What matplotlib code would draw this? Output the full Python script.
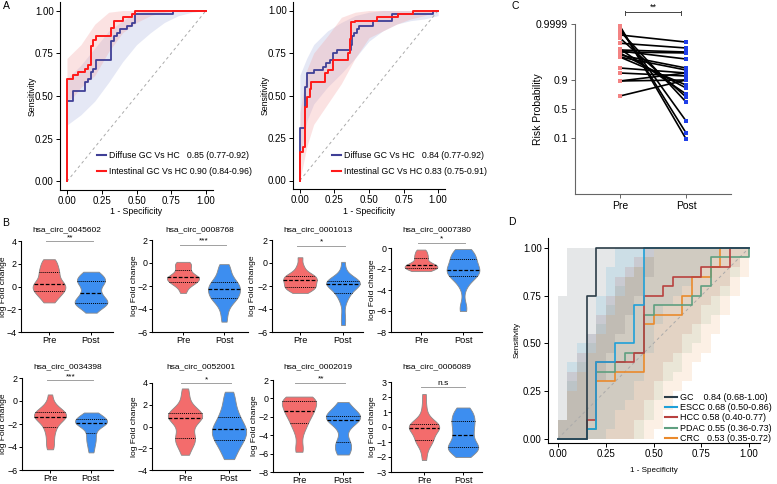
import numpy as np
import matplotlib
matplotlib.use('Agg')
import matplotlib.pyplot as plt
from matplotlib.lines import Line2D
from matplotlib.ticker import NullLocator
from statistics import NormalDist

plt.rcParams['font.family'] = ['Liberation Sans', 'DejaVu Sans']

## Data ##

# Panel A left: ROC step points (fpr where the jump happens, tpr after jump)
a1_intest_fpr = [0, 0, 0.04, 0.08, 0.13, 0.15, 0.17, 0.19, 0.21, 0.32, 0.34, 0.40, 0.47, 0.49, 1.0]
a1_intest_tpr = [0, 0.60, 0.62, 0.64, 0.66, 0.68, 0.79, 0.83, 0.85, 0.90, 0.94, 0.96, 0.98, 1.0, 1.0]
a1_diffuse_fpr = [0, 0, 0.04, 0.13, 0.15, 0.17, 0.19, 0.21, 0.32, 0.34, 0.36, 0.38, 0.43, 0.47, 0.49, 0.76, 1.0]
a1_diffuse_tpr = [0, 0.47, 0.53, 0.58, 0.60, 0.64, 0.66, 0.71, 0.82, 0.85, 0.87, 0.89, 0.91, 0.93, 0.98, 1.0, 1.0]

# Panel A right
a2_diffuse_fpr = [0, 0, 0.04, 0.05, 0.10, 0.17, 0.19, 0.22, 0.24, 0.27, 0.37, 0.38, 0.39, 0.41, 0.43, 0.53, 0.67, 0.96, 1.0]
a2_diffuse_tpr = [0, 0.31, 0.55, 0.63, 0.65, 0.67, 0.69, 0.71, 0.75, 0.77, 0.80, 0.85, 0.87, 0.89, 0.91, 0.94, 0.98, 1.0, 1.0]
a2_intest_fpr = [0, 0, 0.02, 0.04, 0.05, 0.07, 0.08, 0.18, 0.20, 0.24, 0.35, 0.36, 0.37, 0.40, 0.56, 0.71, 0.82, 1.0]
a2_intest_tpr = [0, 0.17, 0.20, 0.43, 0.49, 0.54, 0.58, 0.63, 0.65, 0.71, 0.75, 0.83, 0.93, 0.94, 0.96, 0.98, 1.0, 1.0]

# confidence bands for panel A
a_band_x = [0, 0.05, 0.1, 0.2, 0.3, 0.4, 0.5, 0.6, 0.7, 0.8, 0.9, 1.0]
a1_intest_hi = [0.72, 0.76, 0.80, 0.92, 0.99, 1, 1, 1, 1, 1, 1, 1]
a1_intest_lo = [0.47, 0.50, 0.55, 0.62, 0.76, 0.87, 0.93, 0.97, 0.99, 1, 1, 1]
a1_diffuse_hi = [0.60, 0.64, 0.68, 0.78, 0.88, 0.94, 0.99, 1, 1, 1, 1, 1]
a1_diffuse_lo = [0.33, 0.36, 0.39, 0.47, 0.58, 0.70, 0.80, 0.87, 0.93, 0.97, 0.99, 1.0]
a2_intest_hi = [0.40, 0.65, 0.75, 0.85, 0.96, 0.99, 1, 1, 1, 1, 1, 1]
a2_intest_lo = [0.0, 0.20, 0.33, 0.45, 0.57, 0.72, 0.84, 0.88, 0.92, 0.95, 0.97, 1.0]
a2_diffuse_hi = [0.62, 0.72, 0.80, 0.88, 0.93, 0.97, 0.99, 1, 1, 1, 1, 1]
a2_diffuse_lo = [0.12, 0.35, 0.45, 0.55, 0.63, 0.72, 0.82, 0.88, 0.92, 0.94, 0.95, 0.97]

a1_labels = ['Diffuse GC Vs HC   0.85 (0.77-0.92)', 'Intestinal GC Vs HC 0.90 (0.84-0.96)']
a2_labels = ['Diffuse GC Vs HC   0.84 (0.77-0.92)', 'Intestinal GC Vs HC 0.83 (0.75-0.91)']

# Panel B: log fold change per circRNA
circ_names = ['hsa_circ_0045602', 'hsa_circ_0008768', 'hsa_circ_0001013', 'hsa_circ_0007380',
              'hsa_circ_0034398', 'hsa_circ_0052001', 'hsa_circ_0002019', 'hsa_circ_0006089']
circ_sig = ['**', '***', '*', '*', '***', '*', '**', 'n.s']

pre_0045602 = [-1.4, -1.1, -0.8, -0.6, -0.45, -0.35, -0.2, -0.05, 0.1, 0.2, 0.25, 0.4, 0.7, 1.0, 1.2, 1.35, 1.6, 1.9, 2.2, 2.4]
post_0045602 = [-2.3, -1.9, -1.6, -1.5, -1.45, -1.4, -1.35, -1.2, -0.9, -0.7, -0.5, -0.2, 0.2, 0.4, 0.45, 0.5, 0.7, 0.9, 1.1, 1.3]
pre_0008768 = [-2.6, -2.2, -1.9, -1.8, -1.7, -1.65, -1.5, -1.4, -1.3, -1.3, -1.2, -1.2, -1.1, -0.9, -0.7, -0.5, -0.3, -0.1, 0.0, 0.1]
post_0008768 = [-5.1, -4.3, -3.7, -3.3, -3.1, -3.05, -2.9, -2.7, -2.5, -2.35, -2.25, -2.1, -2.0, -1.8, -1.65, -1.5, -1.2, -0.8, -0.4, -0.1]
pre_0001013 = [-2.6, -2.4, -2.3, -2.2, -2.1, -2.05, -1.9, -1.8, -1.7, -1.55, -1.45, -1.4, -1.3, -1.2, -1.1, -1.05, -0.9, -0.6, -0.2, 0.5]
post_0001013 = [-5.4, -4.6, -3.5, -2.9, -2.7, -2.6, -2.2, -2.0, -1.9, -1.85, -1.75, -1.7, -1.7, -1.65, -1.6, -1.55, -1.5, -1.3, -0.8, 0.1]
pre_0007380 = [-2.2, -2.15, -2.05, -2.0, -1.9, -1.85, -1.8, -1.75, -1.7, -1.65, -1.55, -1.5, -1.4, -1.2, -0.95, -0.85, -0.7, -0.5, -0.3, -0.15]
post_0007380 = [-6.0, -5.5, -3.7, -3.0, -2.75, -2.6, -2.5, -2.3, -2.2, -2.1, -2.0, -1.8, -1.6, -1.3, -1.05, -0.9, -0.7, -0.5, -0.3, -0.1]
pre_0034398 = [-4.2, -3.8, -3.3, -2.8, -2.4, -2.2, -1.8, -1.6, -1.5, -1.4, -1.35, -1.3, -1.2, -1.1, -0.95, -0.9, -0.8, -0.6, -0.2, 0.57]
post_0034398 = [-4.47, -4.0, -3.5, -3.4, -2.9, -2.75, -2.2, -2.1, -2.0, -1.95, -1.93, -1.85, -1.8, -1.7, -1.6, -1.5, -1.4, -1.3, -1.2, -1.0]
pre_0052001 = [-2.6, -2.0, -1.5, -1.2, -1.1, -1.05, -0.5, 0.0, 0.5, 0.75, 0.85, 0.9, 1.0, 1.1, 1.2, 1.25, 1.5, 2.0, 2.8, 3.5]
post_0052001 = [-3.0, -2.5, -2.0, -1.7, -1.35, -1.2, -1.0, -0.8, -0.5, -0.3, -0.2, -0.1, 0.1, 0.5, 0.85, 1.0, 1.5, 2.0, 2.6, 3.2]
pre_0002019 = [-5.8, -5.3, -4.0, -3.2, -2.8, -2.65, -2.0, -1.8, -1.6, -1.45, -1.35, -1.0, -0.7, -0.5, -0.3, -0.25, -0.1, 0.0, 0.1, 0.2]
post_0002019 = [-6.1, -6.0, -5.5, -5.0, -4.85, -4.75, -3.5, -2.8, -2.5, -2.35, -2.25, -2.1, -2.0, -1.95, -1.9, -1.8, -1.5, -1.2, -0.8, -0.4]
pre_0006089 = [-2.2, -1.6, -1.1, -0.95, -0.9, -0.85, -0.6, -0.3, -0.15, -0.08, -0.02, 0.0, 0.05, 0.1, 0.2, 0.22, 0.4, 0.8, 1.4, 2.2]
post_0006089 = [-2.0, -1.7, -1.5, -1.45, -1.4, -1.35, -1.3, -1.1, -0.8, -0.55, -0.45, -0.2, 0.0, 0.2, 0.4, 0.5, 0.7, 0.9, 1.1, 1.3]

# Panel C: paired risk probability
risk_pre = [0.99986, 0.99983, 0.99977, 0.99968, 0.9994, 0.99905, 0.998, 0.9957, 0.9951, 0.9944,
            0.9937, 0.9929, 0.9909, 0.9885, 0.9885, 0.9636, 0.9424, 0.890, 0.890, 0.715]
risk_post = [0.095, 0.147, 0.300, 0.620, 0.9983, 0.700, 0.9962, 0.744, 0.9937, 0.9856,
             0.9929, 0.821, 0.9636, 0.956, 0.853, 0.9424, 0.9256, 0.898, 0.9424, 0.898]

# Panel D: ROC for other cancers
gc_fpr = [0, 0.15, 0.2, 1.0]
gc_tpr = [0, 0.75, 1.0, 1.0]
escc_fpr = [0, 0.15, 0.2, 0.3, 0.4, 0.45, 1.0]
escc_tpr = [0, 0.05, 0.4, 0.5, 0.7, 1.0, 1.0]
hcc_fpr = [0, 0.15, 0.2, 0.4, 0.45, 0.55, 0.6, 0.75, 0.9, 1.0]
hcc_tpr = [0, 0.1, 0.4, 0.45, 0.75, 0.8, 0.85, 0.9, 1.0, 1.0]
pdac_fpr = [0, 0.15, 0.2, 0.3, 0.35, 0.45, 0.5, 0.7, 0.75, 0.8, 1.0, 1.0]
pdac_tpr = [0, 0.05, 0.35, 0.4, 0.45, 0.65, 0.7, 0.75, 0.8, 0.95, 0.95, 1.0]
crc_fpr = [0, 0.15, 0.2, 0.3, 0.45, 0.5, 0.65, 0.7, 0.8, 0.85, 1.0]
crc_tpr = [0, 0.05, 0.3, 0.35, 0.6, 0.65, 0.75, 0.85, 0.9, 1.0, 1.0]

d_band_x = [0, 0.05, 0.1, 0.15, 0.2, 0.25, 0.3, 0.35, 0.4, 0.45, 0.5, 0.55, 0.6, 0.65, 0.7, 0.75, 0.8, 0.85, 0.9, 0.95, 1.0]
gc_hi = [0.75, 1, 1, 1, 1, 1, 1, 1, 1, 1, 1, 1, 1, 1, 1, 1, 1, 1, 1, 1, 1]
gc_lo = [0, 0, 0, 0.1, 0.3, 0.45, 0.55, 0.65, 0.75, 0.85, 1, 1, 1, 1, 1, 1, 1, 1, 1, 1, 1]
escc_hi = [0.1, 0.4, 0.5, 0.55, 0.75, 0.9, 1, 1, 1, 1, 1, 1, 1, 1, 1, 1, 1, 1, 1, 1, 1]
escc_lo = [0, 0, 0, 0, 0, 0.05, 0.15, 0.2, 0.3, 0.45, 0.6, 0.7, 0.75, 0.8, 0.85, 0.9, 0.95, 1, 1, 1, 1]
hcc_hi = [0.1, 0.35, 0.45, 0.55, 0.65, 0.75, 0.85, 0.9, 0.95, 1, 1, 1, 1, 1, 1, 1, 1, 1, 1, 1, 1]
hcc_lo = [0, 0, 0, 0, 0, 0, 0, 0, 0.1, 0.2, 0.3, 0.4, 0.45, 0.55, 0.6, 0.7, 0.75, 0.8, 0.9, 0.95, 1]
pdac_hi = [0.1, 0.3, 0.4, 0.5, 0.6, 0.7, 0.8, 0.85, 0.9, 0.95, 1, 1, 1, 1, 1, 1, 1, 1, 1, 1, 1]
pdac_lo = [0, 0, 0, 0, 0, 0, 0, 0, 0, 0.1, 0.2, 0.3, 0.35, 0.45, 0.5, 0.6, 0.65, 0.75, 0.85, 0.95, 1]
crc_hi = [0.1, 0.25, 0.35, 0.45, 0.55, 0.65, 0.75, 0.85, 0.9, 0.95, 1, 1, 1, 1, 1, 1, 1, 1, 1, 1, 1]
crc_lo = [0, 0, 0, 0, 0, 0, 0, 0, 0, 0, 0.05, 0.15, 0.25, 0.3, 0.4, 0.45, 0.55, 0.65, 0.75, 0.85, 0.95]

d_labels = ['GC    0.84 (0.68-1.00)', 'ESCC 0.68 (0.50-0.86)', 'HCC 0.58 (0.40-0.77)',
            'PDAC 0.55 (0.36-0.73)', 'CRC   0.53 (0.35-0.72)']

## Styles ##
red = '#ff1a1a'
navy = '#3f3f96'
pre_col = '#f36c6c'
post_col = '#3d8ef0'
d_cols = ['#2b3d48', '#1fa0d8', '#b8413f', '#5f9f80', '#ea8a2c']

W, H = 777, 484
fig = plt.figure(figsize=(W / 100, H / 100), dpi=100)


def px_axes(l, t, r, b):
    return fig.add_axes([l / W, 1 - b / H, (r - l) / W, (b - t) / H])


def style_axes(ax, tick_size, length=3):
    for s in ['top', 'right']:
        ax.spines[s].set_visible(False)
    for s in ['left', 'bottom']:
        ax.spines[s].set_linewidth(0.8)
    ax.tick_params(labelsize=tick_size, length=length, width=0.7, pad=1.5)


def label_at(ax, rect, xlab_y=None, ylab_x=None):
    # put axis labels at a given pixel position
    l, t, r, b = rect
    if ylab_x is not None:
        ax.yaxis.set_label_coords((ylab_x - l) / (r - l), 0.5)
        ax.yaxis.label.set_va('center')
    if xlab_y is not None:
        ax.xaxis.set_label_coords(0.5, (b - xlab_y) / (b - t))
        ax.xaxis.label.set_va('center')


def roc_axes(ax, label_size=6.3, tick_size=7):
    style_axes(ax, tick_size)
    ax.plot([0, 1], [0, 1], color='#aaaaaa', lw=0.7, dashes=(3, 3))
    ax.set_xlim(-0.05, 1.05)
    ax.set_ylim(-0.05, 1.05)
    ticks = [0, 0.25, 0.5, 0.75, 1.0]
    ax.set_xticks(ticks, ['0.00', '0.25', '0.50', '0.75', '1.00'])
    ax.set_yticks(ticks, ['0.00', '0.25', '0.50', '0.75', '1.00'])
    ax.set_xlabel('1 - Specificity', fontsize=label_size)
    ax.set_ylabel('Sensitivity', fontsize=label_size)


## Panel A ##
for rect, dfpr, dtpr, ifpr, itpr, dhi, dlo, ihi, ilo, labs, lx, ylx in [
        ((60, 2, 213, 190), a1_diffuse_fpr, a1_diffuse_tpr, a1_intest_fpr, a1_intest_tpr,
         a1_diffuse_hi, a1_diffuse_lo, a1_intest_hi, a1_intest_lo, a1_labels, 97, 32),
        ((293, 2, 445, 189), a2_diffuse_fpr, a2_diffuse_tpr, a2_intest_fpr, a2_intest_tpr,
         a2_diffuse_hi, a2_diffuse_lo, a2_intest_hi, a2_intest_lo, a2_labels, 332, 265)]:
    ax = px_axes(*rect)
    roc_axes(ax)
    label_at(ax, rect, xlab_y=211, ylab_x=ylx)
    ax.fill_between(a_band_x, dlo, dhi, color='#aab4e0', alpha=0.3, lw=0)
    ax.fill_between(a_band_x, ilo, ihi, color='#f4a0a0', alpha=0.3, lw=0)
    ax.plot(dfpr, dtpr, drawstyle='steps-post', color=navy, lw=1.3)
    ax.plot(ifpr, itpr, drawstyle='steps-post', color=red, lw=1.4)
    handles = [Line2D([], [], color=navy, lw=1.5), Line2D([], [], color=red, lw=1.5)]
    ax.legend(handles, labs, loc='center left', bbox_to_anchor=(lx / W, 1 - 163.5 / H),
              bbox_transform=fig.transFigure, frameon=False, fontsize=6.3, handlelength=1.0,
              handletextpad=0.4, labelspacing=0.85, borderpad=0, borderaxespad=0)

## Panel B ##
# rect (l, t, r, b), pre/post x pixel, ylim, yticks, sig bar y, title y, ylabel x
b_layout = [((21, 241, 113, 332), (49, 91), (-4, 4), [-4, -2, 0, 2, 4], 4.0, 230, 4),
            ((152, 240, 248, 332), (183, 224), (-6, 2), [-6, -4, -2, 0, 2], 1.6, 230, 134),
            ((272, 240, 363, 332), (300, 343), (-6, 2), [-6, -4, -2, 0, 2], 1.5, 230, 253),
            ((391, 248, 482, 332), (421, 463), (-8, 0), [-8, -6, -4, -2, 0], 0.5, 230, 373),
            ((22, 378, 113, 470), (50, 91), (-6, 2), [-6, -4, -2, 0, 2], 1.8, 367, 4),
            ((152, 383, 250, 470), (185, 229), (-4, 4), [-4, -2, 0, 2, 4], 4.0, 367, 135),
            ((273, 380, 363, 472), (299, 343), (-8, 2), [-8, -6, -4, -2, 0, 2], 1.7, 367, 255),
            ((391, 382, 482, 472), (424, 463), (-3, 3), [-3, -2, -1, 0, 1, 2, 3], 2.67, 367, 373)]
b_data = [(pre_0045602, post_0045602), (pre_0008768, post_0008768), (pre_0001013, post_0001013),
          (pre_0007380, post_0007380), (pre_0034398, post_0034398), (pre_0052001, post_0052001),
          (pre_0002019, post_0002019), (pre_0006089, post_0006089)]

for (rect, (px1, px2), yl, yt, sig_y, title_y, ylab_x), (pre, post), name, sig in zip(
        b_layout, b_data, circ_names, circ_sig):
    ax = px_axes(*rect)
    style_axes(ax, 6.4, length=2)
    ax.tick_params(pad=1)
    parts = ax.violinplot([pre, post], positions=[1, 2], widths=0.78, showextrema=False, bw_method=0.4)
    for body, vals, pos, col in zip(parts['bodies'], [pre, post], [1, 2], [pre_col, post_col]):
        body.set_facecolor(col)
        body.set_edgecolor('#8a8a8a')
        body.set_linewidth(0.6)
        body.set_alpha(1)
        v = body.get_paths()[0].vertices
        right = v[v[:, 0] >= pos]
        order = np.argsort(right[:, 1])
        ys, xs = right[order, 1], right[order, 0] - pos
        q1, med, q3 = np.percentile(vals, [25, 50, 75])
        for q, ls, lw in [(q1, (0, (1, 1)), 0.7), (med, (0, (3, 1.5)), 0.9), (q3, (0, (1, 1)), 0.7)]:
            hw = np.interp(q, ys, xs)
            ax.plot([pos - hw, pos + hw], [q, q], color='black', ls=ls, lw=lw)
    step = px2 - px1
    ax.set_xlim(1 - (px1 - rect[0]) / step, 2 + (rect[2] - px2) / step)
    ax.set_ylim(*yl)
    ax.set_yticks(yt)
    ax.set_xticks([1, 2], ['Pre', 'Post'])
    ax.tick_params(axis='x', labelsize=6.6)
    ax.set_ylabel('log Fold change', fontsize=6)
    label_at(ax, rect, ylab_x=ylab_x)
    ax.plot([0.92, 2.05], [sig_y, sig_y], color='#a0a0a0', lw=0.7, clip_on=False)
    ax.text(1.5, sig_y, sig, ha='center', va='bottom', fontsize=6, clip_on=False)
    cx = (rect[0] + rect[2]) / 2
    fig.text(cx / W, 1 - title_y / H, name, ha='center', va='center', fontsize=6)

## Panel C ##
_nd = NormalDist()
_ppf = np.vectorize(_nd.inv_cdf, otypes=[float])
_cdf = np.vectorize(_nd.cdf, otypes=[float])


def probit(p):
    return _ppf(np.clip(np.asarray(p, dtype=float), 1e-12, 1 - 1e-12))


def inv_probit(z):
    return _cdf(np.asarray(z, dtype=float))


rectC = (575, 24, 731, 194)
axC = px_axes(*rectC)
axC.set_yscale('function', functions=(probit, inv_probit))
for a, b in zip(risk_pre, risk_post):
    axC.plot([1, 2], [a, b], color='black', lw=1.2, zorder=2)
axC.scatter(np.ones(len(risk_pre)), risk_pre, s=8, marker='s', color='#f38383', zorder=3, lw=0)
axC.scatter(np.full(len(risk_post), 2), risk_post, s=8, marker='s', color='#1f3fe8', zorder=3, lw=0)
axC.set_ylim(0.0001, 0.9999)
axC.set_xlim(0.32, 2.68)
axC.set_yticks([0.1, 0.5, 0.9, 0.9999], ['0.1', '0.5', '0.9', '0.9999'])
axC.yaxis.set_minor_locator(NullLocator())
axC.set_xticks([1, 2], ['Pre', 'Post'])
for s in ['top', 'right']:
    axC.spines[s].set_visible(False)
for s in ['left', 'bottom']:
    axC.spines[s].set_color('#666666')
    axC.spines[s].set_linewidth(0.8)
axC.tick_params(labelsize=7.5, length=3, width=0.7, color='#666666', pad=2)
axC.set_ylabel('Risk Probability', fontsize=7.5)
label_at(axC, rectC, ylab_x=538)
xt = axC.get_xaxis_transform()
axC.plot([1.08, 1.92], [1.07, 1.07], color='#444444', lw=0.7, transform=xt, clip_on=False)
for xx in [1.08, 1.92]:
    axC.plot([xx, xx], [1.055, 1.075], color='#444444', lw=0.7, transform=xt, clip_on=False)
axC.text(1.5, 1.075, '**', ha='center', va='bottom', fontsize=6.5, transform=xt)

## Panel D ##
rectD = (548, 238, 760, 443)
axD = px_axes(*rectD)
roc_axes(axD, label_size=5.8, tick_size=7)
label_at(axD, rectD, xlab_y=470, ylab_x=517)
axD.set_xlim(-0.052, 1.057)
axD.set_ylim(-0.023, 1.052)
d_curves = [(gc_fpr, gc_tpr, gc_lo, gc_hi), (escc_fpr, escc_tpr, escc_lo, escc_hi),
            (hcc_fpr, hcc_tpr, hcc_lo, hcc_hi), (pdac_fpr, pdac_tpr, pdac_lo, pdac_hi),
            (crc_fpr, crc_tpr, crc_lo, crc_hi)]
for (fx, fy, lo, hi), col in zip(d_curves, d_cols):
    axD.fill_between(d_band_x, lo, hi, step='post', color=col, alpha=0.12, lw=0)
for (fx, fy, lo, hi), col in zip(d_curves[::-1], d_cols[::-1]):
    axD.plot(fx, fy, drawstyle='steps-post', color=col, lw=1.2)
handles = [Line2D([], [], color=c, lw=1.5) for c in d_cols]
axD.legend(handles, d_labels, loc='center left', bbox_to_anchor=(665 / W, 1 - 418 / H),
           bbox_transform=fig.transFigure, frameon=False, fontsize=6.5, handlelength=1.3,
           handletextpad=0.4, labelspacing=0.15, borderpad=0, borderaxespad=0)

## Panel letters ##
for letter, x, y in [('A', 6, 6), ('B', 6, 223), ('C', 515, 6), ('D', 512, 222)]:
    fig.text(x / W, 1 - y / H, letter, fontsize=7.5, ha='center', va='center')

fig.savefig('out.png', dpi=100)
